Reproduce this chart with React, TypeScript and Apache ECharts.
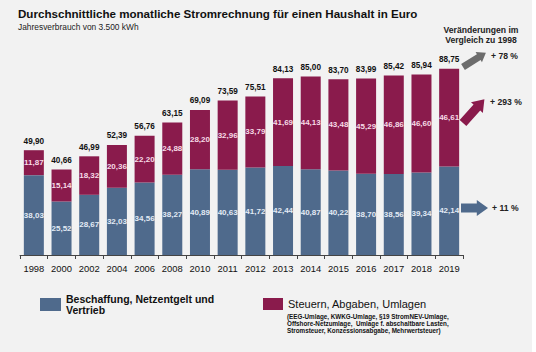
import React, { useEffect, useRef } from 'react';
import * as echarts from 'echarts';

const years = ['1998', '2000', '2002', '2004', '2006', '2008', '2010', '2011', '2012', '2013', '2014', '2015', '2016', '2017', '2018', '2019'];
const supply = [38.03, 25.52, 28.67, 32.03, 34.56, 38.27, 40.89, 40.63, 41.72, 42.44, 40.87, 40.22, 38.70, 38.56, 39.34, 42.14];
const taxes = [11.87, 15.14, 18.32, 20.36, 22.20, 24.88, 28.20, 32.96, 33.79, 41.69, 44.13, 43.48, 45.29, 46.86, 46.60, 46.61];
const totals = [49.90, 40.66, 46.99, 52.39, 56.76, 63.15, 69.09, 73.59, 75.51, 84.13, 85.00, 83.70, 83.99, 85.42, 85.94, 88.75];
const changes = ['+ 78 %', '+ 293 %', '+ 11 %'];

const SUPPLY_NAME = 'Beschaffung, Netzentgelt und\nVertrieb';
const TAX_NAME = 'Steuern, Abgaben, Umlagen';
const TAX_NOTE = '(EEG-Umlage, KWKG-Umlage, §19 StromNEV-Umlage,\nOffshore-Netzumlage,  Umlage f. abschaltbare Lasten,\nStromsteuer, Konzessionsabgabe, Mehrwertsteuer)';

const BLUE = '#4f6a8c';
const MAROON = '#8a1b4c';
const GREY = '#6c6c6c';
const FONT = '"Liberation Sans", Arial, sans-serif';

const fmt = (v: number) => v.toFixed(2).replace('.', ',');

function arrow(x: number, y: number, len: number, angleDeg: number, color: string, shaft: number, head: number) {
  const hl = head * 0.7;
  const pts = [
    [0, -shaft / 2], [len - hl, -shaft / 2], [len - hl, -head / 2], [len, 0],
    [len - hl, head / 2], [len - hl, shaft / 2], [0, shaft / 2],
  ];
  return {
    type: 'polygon', x, y, rotation: (angleDeg * Math.PI) / 180,
    shape: { points: pts }, style: { fill: color }, silent: true,
  };
}

function txt(x: number, y: number, text: string, size: number, weight: string, align = 'left', color = '#1a1a1a', lineHeight?: number, vAlign = 'middle') {
  return {
    type: 'text', x, y, silent: true,
    style: { text, fontSize: size, fontWeight: weight, fontFamily: FONT, fill: color, align, verticalAlign: vAlign, lineHeight },
  };
}

export default function App() {
  const ref = useRef<HTMLDivElement>(null);
  useEffect(() => {
    document.body.style.margin = '0';
    if (!ref.current) return;
    const chart = echarts.init(ref.current, null, { renderer: 'svg' });
    chart.setOption({
      animation: false,
      backgroundColor: '#f2f2f2',
      textStyle: { fontFamily: FONT },
      grid: { left: 20, right: 73, top: 45, bottom: 97 },
      xAxis: {
        type: 'category',
        data: years,
        axisLine: { lineStyle: { color: '#444', width: 1 } },
        axisTick: { show: true, length: 4, lineStyle: { color: '#444' } },
        axisLabel: { color: '#111', fontSize: 9.4, margin: 9, fontFamily: FONT, interval: 0 },
      },
      yAxis: { type: 'value', min: 0, max: 100, show: false, splitLine: { show: false } },
      legend: [
        {
          data: [SUPPLY_NAME], left: 40, top: 288, padding: 0, itemWidth: 21, itemHeight: 13, icon: 'rect',
          selectedMode: false,
          textStyle: { fontSize: 10.5, fontWeight: 'bold', lineHeight: 11, padding: [11, 0, 0, 0], color: '#111', fontFamily: FONT },
        },
        {
          data: [TAX_NAME], left: 263, top: 298, padding: 0, itemWidth: 20, itemHeight: 12, icon: 'rect',
          selectedMode: false,
          textStyle: { fontSize: 11, fontWeight: 500, color: '#111', fontFamily: FONT },
        },
      ],
      series: [
        {
          name: SUPPLY_NAME, type: 'bar', stack: 'total', data: supply, barWidth: 20,
          itemStyle: { color: BLUE },
          label: { show: true, position: 'inside', color: '#e3ebf5', fontSize: 8, fontWeight: 'bold', formatter: (p: any) => fmt(p.value) },
        },
        {
          name: TAX_NAME, type: 'bar', stack: 'total', data: taxes, barWidth: 20,
          itemStyle: { color: MAROON },
          label: { show: true, position: 'inside', color: '#f7dbe7', fontSize: 8, fontWeight: 'bold', formatter: (p: any) => fmt(p.value) },
        },
        {
          name: 'Gesamt', type: 'bar', data: totals, barWidth: 20, barGap: '-100%', silent: true,
          itemStyle: { color: 'rgba(0,0,0,0)' },
          label: { show: true, position: 'top', distance: 5, color: '#111', fontSize: 8.2, fontWeight: 'bold', formatter: (p: any) => fmt(p.value) },
        },
      ],
      graphic: [
        { type: 'rect', x: 532, y: 0, shape: { width: 4, height: 352 }, style: { fill: '#ffffff' }, silent: true },
        txt(18, 13, 'Durchschnittliche monatliche Stromrechnung für einen Haushalt in Euro', 11.6, 'bold', 'left', '#111'),
        txt(18, 27, 'Jahresverbrauch von 3.500 kWh', 8.4, 'normal', 'left', '#222'),
        txt(481, 30, 'Veränderungen im', 8.6, 'bold', 'center', '#222'),
        txt(481, 40, 'Vergleich zu 1998', 8.6, 'bold', 'center', '#222'),
        arrow(463, 67, 27, 32, GREY, 7, 12),
        arrow(463, 123, 32, 48, MAROON, 9, 16),
        arrow(461, 208, 27, 0, BLUE, 9, 16),
        txt(491, 56, changes[0], 8.6, 'bold', 'left', '#222'),
        txt(490, 102, changes[1], 8.6, 'bold', 'left', '#222'),
        txt(492, 208, changes[2], 8.6, 'bold', 'left', '#222'),
        txt(287, 313, TAX_NOTE, 6.3, 'bold', 'left', '#111', 7, 'top'),
      ],
    });
    return () => chart.dispose();
  }, []);
  return <div ref={ref} style={{ width: 536, height: 352 }} />;
}
